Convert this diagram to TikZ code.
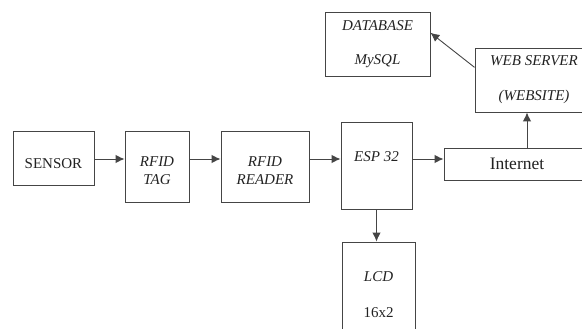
\documentclass[tikz,border=0pt]{standalone}
\usepackage{fontspec}
\setmainfont{Liberation Serif}
\usetikzlibrary{arrows.meta}
\definecolor{edge}{HTML}{454545}
\definecolor{ink}{HTML}{222222}
\tikzset{
  blk/.style = {draw=edge, line width=0.9pt, rectangle, inner sep=0pt,
    align=center, text=ink, font=\fontsize{15}{18}\selectfont\itshape},
  blk_up/.style = {blk, font=\fontsize{15}{18}\selectfont},
  blk_net/.style = {blk, font=\fontsize{17.5}{20}\selectfont},
  conn/.style = {->, draw=edge, line width=0.9pt}
}
\begin{document}
\begin{tikzpicture}[x=1pt, y=-1pt, >={Latex[length=9pt,width=8.5pt]}]
\useasboundingbox (0,0) rectangle (582,329);
\node [blk_up, minimum width=81pt, minimum height=54pt, text height=20pt,
  text depth=0pt] (sensor) at (53.5,158) {SENSOR};
\node [blk, minimum width=64pt, minimum height=71pt] (tag) at (157,166.5)
  {\mbox{}\\RFID\\TAG};
\node [blk, minimum width=88pt, minimum height=71pt] (reader) at (265,166.5)
  {\mbox{}\\RFID\\READER};
\node [blk, minimum width=71pt, minimum height=87pt] (esp) at (376.5,165.5)
  {ESP 32\\\mbox{}};
\node [blk_net, minimum width=146pt, minimum height=32pt] (net) at (517,164)
  {Internet};
\node [blk, minimum width=118pt, minimum height=64pt] (web) at (534,80)
  {WEB SERVER\\[17pt](WEBSITE)};
\node [blk, minimum width=105pt, minimum height=64pt] (db) at (377.5,44)
  {DATABASE\\[16pt]MySQL};
\node [blk, minimum width=73pt, minimum height=106pt] (lcd) at (378.5,295)
  {LCD\\[18pt]\upshape 16x2};

% connectors
\coordinate (row) at (0,159);
\coordinate (col) at (527,0);
\draw [conn] (sensor.east |- row) -- (tag.west |- row);
\draw [conn] (tag.east |- row) -- (reader.west |- row);
\draw [conn] (reader.east |- row) -- (esp.west |- row);
\draw [conn] (esp.east |- row) -- (net.west |- row);
\draw [conn] (net.north -| col) -- (web.south -| col);
\draw [conn] (web.168) -- (db.12);
\draw [conn] (esp.south) -- (esp.south |- lcd.north);
\end{tikzpicture}
\end{document}
